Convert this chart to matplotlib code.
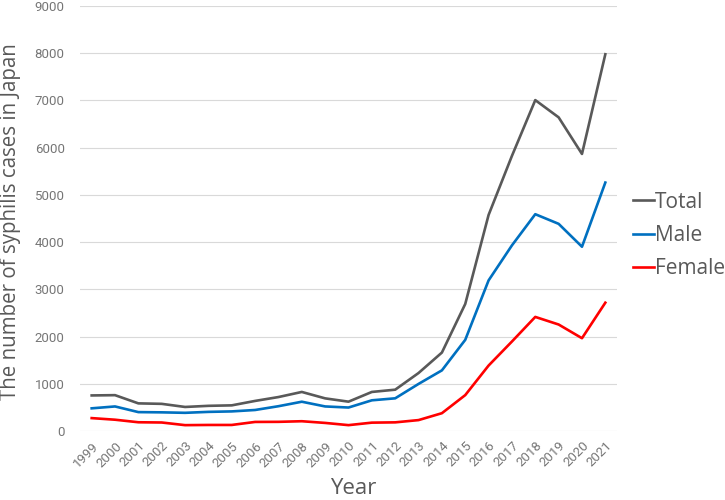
import matplotlib
matplotlib.use("Agg")
import matplotlib.pyplot as plt

years = [str(y) for y in range(1999, 2022)]
total = [753, 759, 585, 575, 509, 533, 543, 637, 719, 827, 691, 621, 827, 875,
         1228, 1661, 2690, 4575, 5826, 7007, 6642, 5867, 7978]
male = [480, 520, 400, 395, 385, 405, 415, 445, 525, 620, 520, 497, 650, 692,
        997, 1284, 1930, 3189, 3931, 4591, 4387, 3902, 5261]
female = [273, 239, 185, 180, 124, 128, 128, 192, 194, 207, 171, 124, 177, 183,
          231, 377, 760, 1386, 1895, 2416, 2255, 1965, 2717]

plt.rcParams['font.family'] = ['Open Sans', 'DejaVu Sans']

fig = plt.figure(figsize=(7.25, 5), dpi=100)
ax = fig.add_axes([80 / 725, 1 - 431 / 500, (617 - 80) / 725, (431 - 6) / 500])

x = list(range(len(years)))
ax.plot(x, total, color="#595959", lw=1.9, label="Total")
ax.plot(x, male, color="#0070C0", lw=1.9, label="Male")
ax.plot(x, female, color="#FF0000", lw=1.9, label="Female")

ax.set_xlim(-0.5, len(years) - 0.5)
ax.set_ylim(0, 9000)
ax.set_yticks(range(0, 9001, 1000))
ax.set_xticks(x)
ax.set_xticklabels(years, rotation=45, ha="right", rotation_mode="anchor")
ax.tick_params(axis="both", length=0, labelsize=9.5, labelcolor="#767676")
ax.tick_params(axis="y", pad=11)
ax.tick_params(axis="x", pad=6)
for lab in ax.get_xticklabels() + ax.get_yticklabels():
    lab.set_family(['Roboto', 'DejaVu Sans'])

ax.grid(axis="y", color="#d9d9d9", lw=0.8)
ax.set_axisbelow(True)
for s in ax.spines.values():
    s.set_visible(False)

ax.set_xlabel("Year", fontsize=16, color="#595959", va="center")
ax.xaxis.set_label_coords((353 - 80) / 537, (431 - 489) / 425)
ax.set_ylabel("The number of syphilis cases in Japan", fontsize=14.8, color="#595959", va="center")
ax.yaxis.set_label_coords((11 - 80) / 537, (431 - 222) / 425)

leg = ax.legend(loc="center left", bbox_to_anchor=(0.995, 0.46), frameon=False,
                fontsize=15, handlelength=1.0, handletextpad=0.05, labelspacing=0.6,
                labelcolor="#595959")

fig.savefig("out.png", dpi=100)
